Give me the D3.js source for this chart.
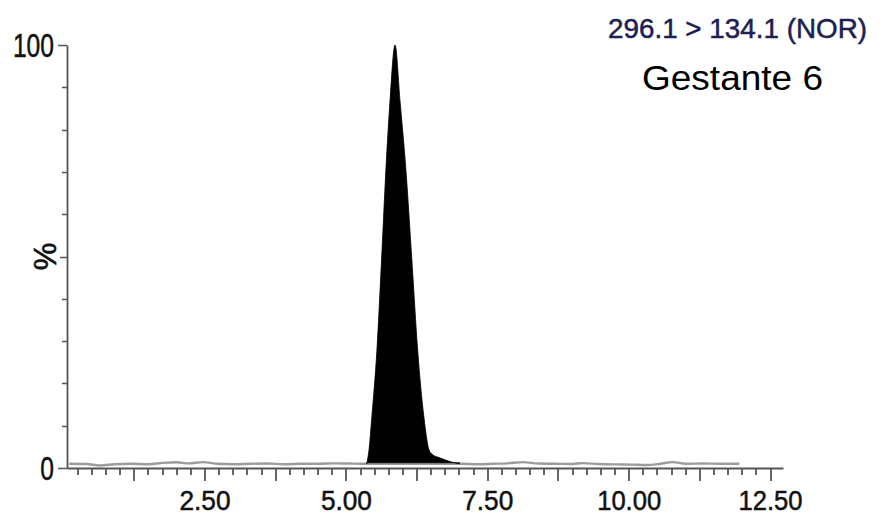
<!DOCTYPE html>
<html>
<head>
<meta charset="utf-8">
<script src="https://cdn.jsdelivr.net/npm/d3@7"></script>
<style>
  html, body { margin: 0; padding: 0; background: #fff; }
  svg { display: block; }
  text { font-family: "Liberation Sans", Arial, Helvetica, sans-serif; }
</style>
</head>
<body>
<svg id="chart" width="885" height="520"></svg>
<script>
// Chromatogram trace: retention time (min) vs. relative intensity (%)
const baselineTimes = [0.10, 0.40, 0.65, 0.90, 1.20, 1.50, 1.75, 2.00, 2.20, 2.47, 2.70, 3.00,
  3.30, 3.60, 3.90, 4.20, 4.50, 4.80, 5.05, 5.30, 5.60, 5.90, 6.20, 6.50, 6.80, 7.05,
  7.30, 7.60, 7.85, 8.12, 8.40, 8.70, 9.00, 9.18, 9.45, 9.75, 10.05, 10.30, 10.55,
  10.77, 11.00, 11.30, 11.60, 11.95];
const baselineIntensity = [1.0, 0.95, 0.6, 0.9, 1.0, 0.9, 1.2, 1.35, 1.1, 1.4, 1.0, 0.9,
  1.0, 1.05, 0.9, 1.0, 1.0, 1.1, 1.05, 1.0, 1.0, 1.0, 1.0, 1.0, 1.0, 1.0,
  0.9, 1.0, 1.1, 1.4, 1.05, 1.0, 0.95, 1.15, 0.95, 0.85, 0.8, 0.7, 1.0,
  1.4, 1.0, 1.05, 1.0, 1.0];

// Integrated peak of the 296.1 > 134.1 transition
const peakTimes = [5.36, 5.40, 5.45, 5.54, 5.63, 5.70, 5.77, 5.86, 5.95, 6.05, 6.16,
  6.26, 6.37, 6.46, 6.51, 6.65, 6.86, 7.00];
const peakIntensity = [1.0, 4.3, 12.1, 27.9, 51.5, 70.9, 86.5, 100, 86.5, 70.9, 48.7,
  27.9, 12.1, 4.3, 3.3, 2.4, 1.4, 1.0];
const peakBase = 1.0;

const xTickLabels = ["2.50", "5.00", "7.50", "10.00", "12.50"];
const xMajorTicks = [2.5, 5.0, 7.5, 10.0, 12.5];
const yTickLabels = ["0", "100"];
const yMajorTicks = [0, 100];
const channelLabel = "296.1 > 134.1 (NOR)";
const sampleLabel = "Gestante 6";
const yAxisLabel = "%";

const svg = d3.select("#chart");

const x = d3.scaleLinear().domain([0.06, 12.72]).range([67, 783]);
const y = d3.scaleLinear().domain([0, 100]).range([468, 45]);

const axisColor = "#555";

// Baseline trace
const baseline = baselineTimes.map((t, i) => [t, baselineIntensity[i]]);
svg.append("path")
  .datum(baseline)
  .attr("fill", "none")
  .attr("stroke", "#9c9c9c")
  .attr("stroke-width", 2.4)
  .attr("d", d3.line().x(d => x(d[0])).y(d => y(d[1])).curve(d3.curveMonotoneX));

// Filled peak
const peak = peakTimes.map((t, i) => [t, peakIntensity[i]]);
svg.append("path")
  .datum(peak)
  .attr("fill", "#000")
  .attr("stroke", "#000")
  .attr("stroke-width", 0.8)
  .attr("d", d3.area()
    .x(d => x(d[0]))
    .y0(y(peakBase) - 1)
    .y1(d => y(d[1]))
    .curve(d3.curveMonotoneX));

// X axis: minor ticks every 0.25 min, major every 1.25 min
const xAxisG = svg.append("g").attr("transform", `translate(0,${y(0)})`);
xAxisG.call(d3.axisBottom(x).tickValues([]).tickSizeOuter(0))
  .call(g => g.select(".domain").attr("stroke", axisColor).attr("stroke-width", 1.8));

const xMinor = d3.range(1, 51).map(i => ({ v: i * 0.25, major: i % 5 === 0 }));
xAxisG.selectAll(".xtick")
  .data(xMinor)
  .join("line")
  .attr("class", "xtick")
  .attr("x1", d => Math.round(x(d.v)))
  .attr("x2", d => Math.round(x(d.v)))
  .attr("y1", 0)
  .attr("y2", d => d.major ? 13 : 7)
  .attr("stroke", axisColor)
  .attr("stroke-width", 1.8);

xAxisG.selectAll(".xlab")
  .data(xMajorTicks)
  .join("text")
  .attr("class", "xlab")
  .attr("x", d => x(d))
  .attr("y", 42)
  .attr("text-anchor", "middle")
  .attr("font-size", 27)
  .attr("fill", "#111")
  .attr("stroke", "#111")
  .attr("stroke-width", 0.5)
  .attr("textLength", (d, i) => xTickLabels[i].length > 4 ? 64 : 51)
  .attr("lengthAdjust", "spacingAndGlyphs")
  .text((d, i) => xTickLabels[i]);

// Y axis: minor ticks every 10 %
const yAxisG = svg.append("g").attr("transform", `translate(${x.range()[0]},0)`);
yAxisG.call(d3.axisLeft(y).tickValues([]).tickSizeOuter(0))
  .call(g => g.select(".domain").attr("stroke", axisColor).attr("stroke-width", 1.8));

yAxisG.selectAll(".ytick")
  .data(d3.range(0, 11).map(i => i * 10))
  .join("line")
  .attr("class", "ytick")
  .attr("x1", 0)
  .attr("x2", d => (d === 0 || d === 100) ? -9 : (d === 50 ? -7 : -5))
  .attr("y1", d => Math.round(y(d)) + 0.5)
  .attr("y2", d => Math.round(y(d)) + 0.5)
  .attr("stroke", axisColor)
  .attr("stroke-width", 1.5);

yAxisG.selectAll(".ylab")
  .data(yMajorTicks)
  .join("text")
  .attr("class", "ylab")
  .attr("x", -13)
  .attr("y", d => y(d) + 12)
  .attr("text-anchor", "end")
  .attr("font-size", 33)
  .attr("fill", "#111")
  .attr("stroke", "#111")
  .attr("stroke-width", 0.5)
  .attr("textLength", (d, i) => yTickLabels[i].length * 13.7)
  .attr("lengthAdjust", "spacingAndGlyphs")
  .text((d, i) => yTickLabels[i]);

// Y axis title
svg.append("text")
  .attr("transform", `translate(56,${y(50)}) rotate(-90)`)
  .attr("text-anchor", "middle")
  .attr("font-size", 31)
  .attr("fill", "#111")
  .attr("stroke", "#111")
  .attr("stroke-width", 0.6)
  .text(yAxisLabel);

// Channel and sample labels
svg.append("text")
  .attr("x", 867)
  .attr("y", 38)
  .attr("text-anchor", "end")
  .attr("font-size", 28)
  .attr("fill", "#1d2150")
  .attr("stroke", "#1d2150")
  .attr("stroke-width", 0.5)
  .attr("textLength", 259)
  .attr("lengthAdjust", "spacingAndGlyphs")
  .text(channelLabel);

svg.append("text")
  .attr("x", 642)
  .attr("y", 90)
  .attr("font-size", 35)
  .attr("fill", "#000")
  .attr("textLength", 181)
  .attr("lengthAdjust", "spacingAndGlyphs")
  .text(sampleLabel);
</script>
</body>
</html>
